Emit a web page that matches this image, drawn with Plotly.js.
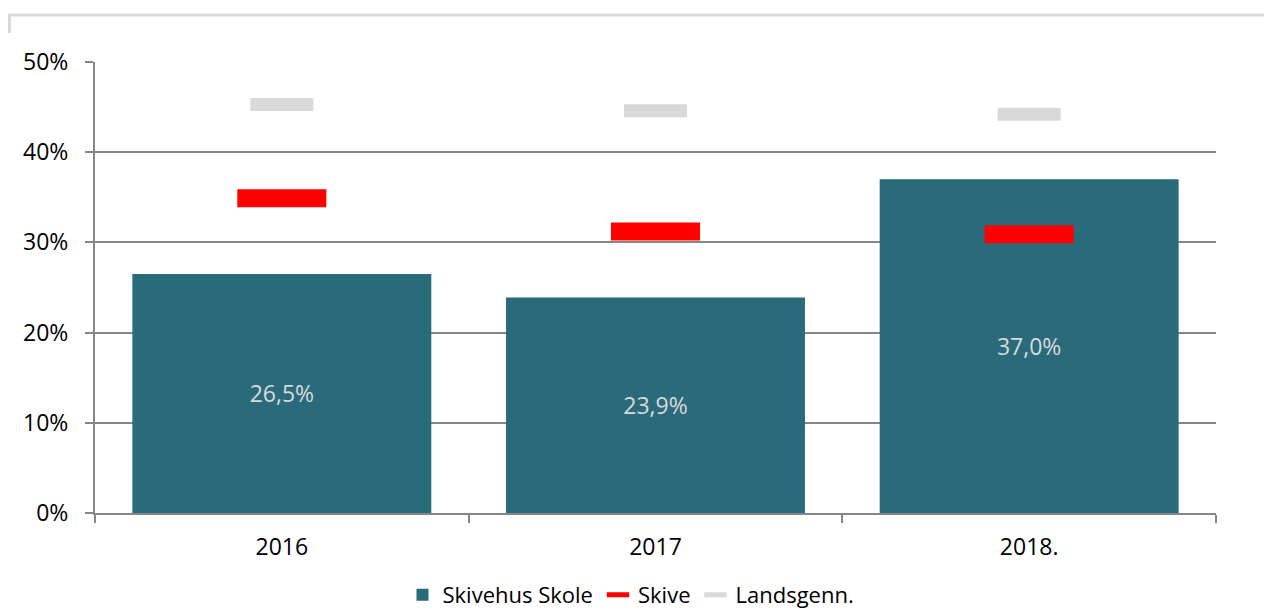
<!DOCTYPE html>
<html>
<head>
<meta charset="utf-8">
<script src="https://cdn.plot.ly/plotly-3.0.1.min.js"></script>
<style>
html,body{margin:0;padding:0;background:#fff;}
#chart{width:1276px;height:614px;}
</style>
</head>
<body>
<div id="chart"></div>
<script>
const categories = ['2016', '2017', '2018.'];
const skivehusSkole = [0.265, 0.239, 0.370];
const skive = [0.349, 0.312, 0.309];
const landsgenn = [0.453, 0.446, 0.442];
const yTickVals = [0, 0.1, 0.2, 0.3, 0.4, 0.5];
const yTickText = ['0%', '10%', '20%', '30%', '40%', '50%'];

const FONT = 'Open Sans, Noto Sans, sans-serif';

const traces = [
  {
    type: 'bar',
    name: 'Skivehus Skole',
    x: categories,
    y: skivehusSkole,
    width: 0.8,
    marker: {color: '#296b7b'},
    texttemplate: '%{y:.1%}',
    textposition: 'inside',
    insidetextanchor: 'middle',
    insidetextfont: {family: FONT, size: 23, color: '#d9d9d9'},
    hoverinfo: 'skip'
  },
  {
    type: 'scatter',
    mode: 'markers',
    name: 'Skive',
    x: categories,
    y: skive,
    marker: {symbol: 'line-ew', size: 63.6, color: '#ff0000', line: {color: '#ff0000', width: 18}},
    hoverinfo: 'skip'
  },
  {
    type: 'scatter',
    mode: 'markers',
    name: 'Landsgenn.',
    x: categories,
    y: landsgenn,
    marker: {symbol: 'line-ew', size: 45, color: '#d9d9d9', line: {color: '#d9d9d9', width: 13}},
    hoverinfo: 'skip'
  }
];

const px = v => (v - 95) / 1121;
const py = v => (513 - v) / 451;

const layout = {
  width: 1276,
  height: 614,
  margin: {l: 95, r: 60, t: 62, b: 101},
  paper_bgcolor: '#ffffff',
  plot_bgcolor: '#ffffff',
  separators: ',.',
  font: {family: FONT, size: 22, color: '#000000'},
  showlegend: true,
  legend: {
    orientation: 'h',
    x: px(631),
    xanchor: 'center',
    xref: 'paper',
    yref: 'container',
    y: (614 - 595) / 614,
    yanchor: 'middle',
    font: {family: FONT, size: 22, color: '#000000'},
    traceorder: 'normal',
    bgcolor: 'rgba(0,0,0,0)'
  },
  hovermode: false,
  xaxis: {
    type: 'category',
    showgrid: false,
    showline: true,
    linecolor: '#868686',
    linewidth: 2,
    ticks: 'outside',
    tickson: 'boundaries',
    ticklen: 8,
    tickwidth: 2,
    tickcolor: '#868686',
    ticklabelstandoff: 12,
    tickfont: {family: FONT, size: 23, color: '#000000'},
    fixedrange: true
  },
  yaxis: {
    range: [0, 0.5],
    tickvals: yTickVals,
    ticktext: yTickText,
    showgrid: true,
    gridcolor: '#868686',
    gridwidth: 2,
    zeroline: false,
    showline: true,
    linecolor: '#868686',
    linewidth: 2,
    ticks: 'outside',
    ticklen: 8,
    tickwidth: 2,
    tickcolor: '#868686',
    ticklabelstandoff: 12,
    tickfont: {family: FONT, size: 23, color: '#000000'},
    fixedrange: true
  },
  shapes: [
    {type: 'line', xref: 'paper', yref: 'paper', x0: px(8), x1: px(1264), y0: py(15), y1: py(15), line: {color: '#d9d9d9', width: 3}},
    {type: 'line', xref: 'paper', yref: 'paper', x0: px(9.5), x1: px(9.5), y0: py(14), y1: py(33), line: {color: '#d9d9d9', width: 3}}
  ]
};

Plotly.newPlot('chart', traces, layout, {displayModeBar: false, staticPlot: true});
</script>
</body>
</html>
